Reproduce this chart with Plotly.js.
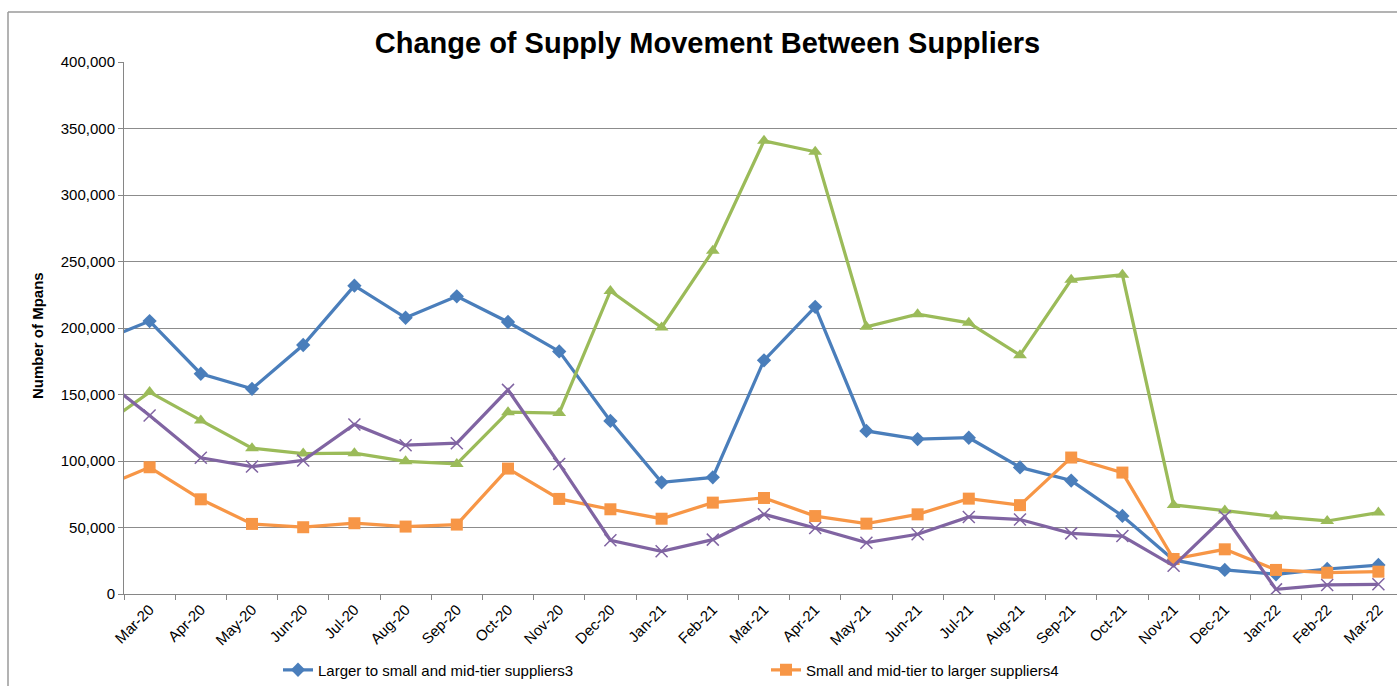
<!DOCTYPE html>
<html>
<head>
<meta charset="utf-8">
<script src="https://cdn.plot.ly/plotly-3.0.1.min.js"></script>
<style>
  html, body { margin: 0; padding: 0; background: #fff; overflow: hidden; }
  #chart { width: 1397px; height: 686px; }
</style>
</head>
<body>
<div id="chart"></div>
<script>
// Categories (Feb-20 is only the clipped lead-in segment at the left edge)
const categories = ['Feb-20','Mar-20','Apr-20','May-20','Jun-20','Jul-20','Aug-20','Sep-20','Oct-20','Nov-20','Dec-20',
  'Jan-21','Feb-21','Mar-21','Apr-21','May-21','Jun-21','Jul-21','Aug-21','Sep-21','Oct-21','Nov-21','Dec-21',
  'Jan-22','Feb-22','Mar-22'];

const largerToSmall = [189600, 205200, 165600, 154300, 187200, 231800, 207700, 223800, 204500, 182400, 130100,
  84000, 87700, 175700, 215900, 122600, 116500, 117500, 95200, 85300, 58700, 25600, 18100, 14800, 18800, 21800];
const smallToLarger = [79300, 95300, 71200, 52700, 50200, 53200, 50700, 52200, 94300, 71500, 63700,
  56600, 68700, 72200, 58600, 52900, 59900, 71700, 66800, 102600, 91300, 26300, 33600, 18100, 16000, 16800];
const greenSeries = [124200, 151800, 130500, 109600, 105600, 105900, 99800, 97800, 136700, 136000, 227900,
  200400, 258000, 340700, 332500, 200900, 210400, 203900, 179600, 236200, 240000, 67000, 62700, 58200, 54900, 61200];
const purpleSeries = [164400, 134200, 102400, 95800, 100400, 127500, 111900, 113400, 153500, 97800, 40400,
  32100, 40900, 59900, 49600, 38600, 44900, 57900, 56000, 45600, 43600, 21200, 58200, 3500, 6800, 7300];

const seriesNames = ['Larger to small and mid-tier suppliers3', 'Small and mid-tier to larger suppliers4',
  'Larger to larger suppliers', 'Small and mid-tier to small and mid-tier suppliers'];
const yTickVals = [0, 50000, 100000, 150000, 200000, 250000, 300000, 350000, 400000];

const W = 1397, H = 686;
const M = {l: 124, r: 0, t: 62, b: 92};
const PW = W - M.l - M.r, PH = H - M.t - M.b;
const px2x = (px) => (px - M.l) / PW;
const px2y = (py) => (H - M.b - py) / PH;

const FONT = 'Liberation Sans, Arial, sans-serif';

const traces = [
  {x: categories, y: largerToSmall, name: seriesNames[0], type: 'scatter', mode: 'lines+markers',
   line: {color: '#4A7EBB', width: 3.25}, marker: {symbol: 'diamond', size: 11, color: '#4A7EBB'}, legend: 'legend'},
  {x: categories, y: smallToLarger, name: seriesNames[1], type: 'scatter', mode: 'lines+markers',
   line: {color: '#F79646', width: 3.25}, marker: {symbol: 'square', size: 12, color: '#F79646'}, legend: 'legend2'},
  {x: categories, y: greenSeries, name: seriesNames[2], type: 'scatter', mode: 'lines+markers',
   line: {color: '#9BBB59', width: 3.25}, marker: {symbol: 'triangle-up', size: 12, color: '#9BBB59'}, showlegend: false},
  {x: categories, y: purpleSeries, name: seriesNames[3], type: 'scatter', mode: 'lines+markers',
   line: {color: '#8064A2', width: 3.25}, marker: {symbol: 'x-thin-open', size: 12, color: '#8064A2', line: {color: '#8064A2', width: 1.5}}, showlegend: false}
];

const layout = {
  width: W, height: H,
  margin: {l: M.l, r: M.r, t: M.t, b: M.b, autoexpand: false},
  paper_bgcolor: '#ffffff', plot_bgcolor: '#ffffff',
  font: {family: FONT, size: 15, color: '#000000'},
  title: {text: 'Change of Supply Movement Between Suppliers', font: {family: FONT, size: 29, color: '#000', weight: 'bold'},
          xref: 'container', x: 707.5 / W, xanchor: 'center', yref: 'container', y: 1 - 43 / H, yanchor: 'middle'},
  xaxis: {type: 'category', categoryorder: 'array', categoryarray: categories,
          range: [0.5, 0.5 + PW / 51.2], tickson: 'boundaries', ticks: 'outside', ticklen: 5, tickcolor: '#868686',
          showline: true, linecolor: '#868686', linewidth: 1, showgrid: false, zeroline: false,
          tickangle: -45, tickfont: {family: FONT, size: 15, color: '#000'}, fixedrange: true},
  yaxis: {range: [0, 400000], tickvals: yTickVals, tickformat: ',', ticks: 'outside', ticklen: 5, tickcolor: '#868686',
          showline: true, linecolor: '#868686', linewidth: 1, showgrid: true, gridcolor: '#8c8c8c', gridwidth: 1,
          zeroline: false, tickfont: {family: FONT, size: 15, color: '#000'}, fixedrange: true},
  showlegend: true,
  legend: {orientation: 'h', xref: 'paper', yref: 'paper', x: px2x(278), xanchor: 'left', y: px2y(670), yanchor: 'middle',
           bgcolor: 'rgba(0,0,0,0)', borderwidth: 0, font: {family: FONT, size: 15, color: '#000'}},
  legend2: {orientation: 'h', xref: 'paper', yref: 'paper', x: px2x(766), xanchor: 'left', y: px2y(670), yanchor: 'middle',
           bgcolor: 'rgba(0,0,0,0)', borderwidth: 0, font: {family: FONT, size: 15, color: '#000'}},
  annotations: [
    {text: '<b>Number of Mpans</b>', xref: 'paper', yref: 'paper', x: px2x(37), y: px2y(336), textangle: -90,
     showarrow: false, xanchor: 'center', yanchor: 'middle', font: {family: FONT, size: 15, color: '#000'}}
  ],
  shapes: [
    {type: 'line', xref: 'paper', yref: 'paper', x0: px2x(8), x1: px2x(8), y0: px2y(12), y1: px2y(700),
     line: {color: '#9a9a9a', width: 1.5}},
    {type: 'line', xref: 'paper', yref: 'paper', x0: px2x(8), x1: px2x(1420), y0: px2y(12), y1: px2y(12),
     line: {color: '#9a9a9a', width: 1.5}}
  ]
};

Plotly.newPlot('chart', traces, layout, {displayModeBar: false, staticPlot: true});
</script>
</body>
</html>
